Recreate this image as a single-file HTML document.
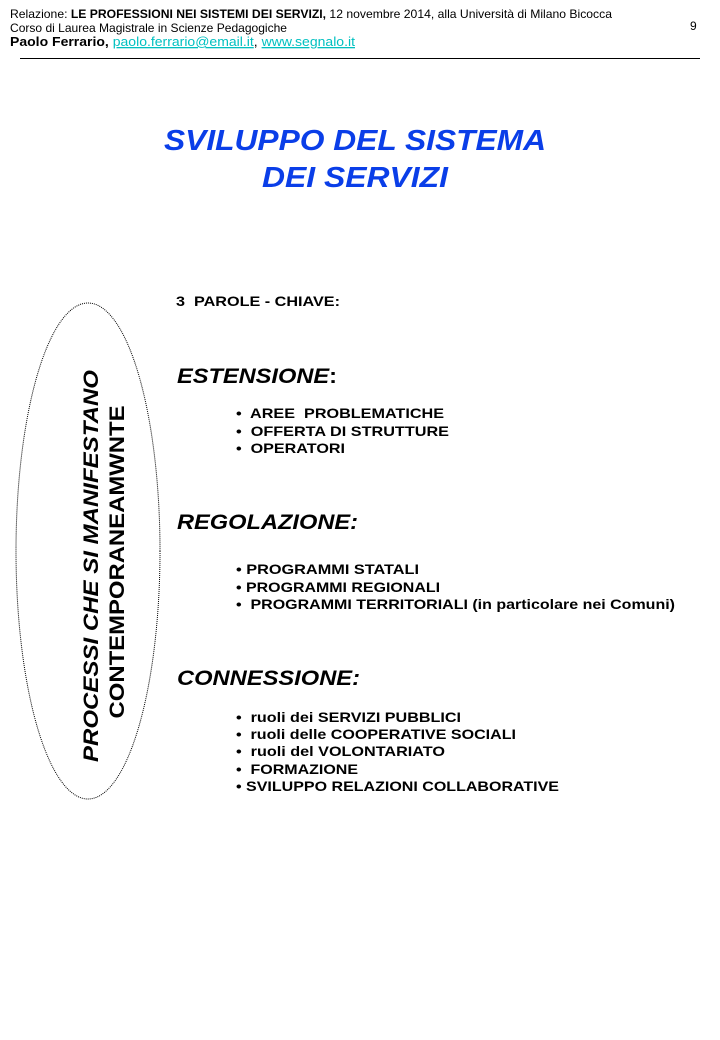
<!DOCTYPE html>
<html><head><meta charset="utf-8"><style>
html,body{margin:0;padding:0;background:#fff;}
svg{display:block;}
text{font-family:"Liberation Sans",Arial,sans-serif;white-space:pre;}
</style></head><body>
<svg width="720" height="1040" viewBox="0 0 720 1040" xmlns="http://www.w3.org/2000/svg" xml:space="preserve">
<text x="10" y="18" font-size="12" fill="#000" textLength="602" lengthAdjust="spacingAndGlyphs">Relazione: <tspan font-weight="bold">LE PROFESSIONI NEI SISTEMI DEI SERVIZI,</tspan> 12 novembre 2014, alla Università di Milano Bicocca</text>
<text x="10" y="32" font-size="12" fill="#000" textLength="277" lengthAdjust="spacingAndGlyphs">Corso di Laurea Magistrale in Scienze Pedagogiche</text>
<text x="690" y="30" font-size="12" fill="#000">9</text>
<text x="10" y="46" font-size="13" fill="#000" textLength="345" lengthAdjust="spacingAndGlyphs"><tspan font-weight="bold">Paolo Ferrario,</tspan> <tspan fill="#00c0c0" text-decoration="underline">paolo.ferrario@email.it</tspan>, <tspan fill="#00c0c0" text-decoration="underline">www.segnalo.it</tspan></text>
<line x1="20" y1="58.5" x2="700" y2="58.5" stroke="#000" stroke-width="1"/>
<text x="355" y="150" font-size="29" font-weight="bold" font-style="italic" fill="#0a3ee8" text-anchor="middle" textLength="382" lengthAdjust="spacingAndGlyphs">SVILUPPO DEL SISTEMA</text>
<text x="355" y="187" font-size="29" font-weight="bold" font-style="italic" fill="#0a3ee8" text-anchor="middle" textLength="186" lengthAdjust="spacingAndGlyphs">DEI SERVIZI</text>
<ellipse cx="88" cy="551" rx="72" ry="248" fill="none" stroke="#000" stroke-width="1" stroke-dasharray="1,1"/>
<g transform="translate(98,566) rotate(-90)">
<text x="0" y="0" font-size="21" font-weight="bold" font-style="italic" text-anchor="middle" textLength="392" lengthAdjust="spacingAndGlyphs">PROCESSI CHE SI MANIFESTANO</text>
</g>
<g transform="translate(124,562) rotate(-90)">
<text x="0" y="0" font-size="21" font-weight="bold" text-anchor="middle" textLength="313" lengthAdjust="spacingAndGlyphs">CONTEMPORANEAMWNTE</text>
</g>
<text x="176" y="306" font-size="14" font-weight="bold" textLength="164" lengthAdjust="spacingAndGlyphs">3  PAROLE - CHIAVE:</text>
<text x="177" y="383" font-size="21" font-weight="bold" font-style="italic" textLength="160" lengthAdjust="spacingAndGlyphs">ESTENSIONE<tspan font-style="normal">:</tspan></text>
<g font-size="14" font-weight="bold">
<text x="236" y="418" textLength="208" lengthAdjust="spacingAndGlyphs">•  AREE  PROBLEMATICHE</text>
<text x="236" y="436" textLength="213" lengthAdjust="spacingAndGlyphs">•  OFFERTA DI STRUTTURE</text>
<text x="236" y="453" textLength="109" lengthAdjust="spacingAndGlyphs">•  OPERATORI</text>
</g>
<text x="177" y="529" font-size="21" font-weight="bold" font-style="italic" textLength="181" lengthAdjust="spacingAndGlyphs">REGOLAZIONE:</text>
<g font-size="14" font-weight="bold">
<text x="236" y="574" textLength="183" lengthAdjust="spacingAndGlyphs">• PROGRAMMI STATALI</text>
<text x="236" y="592" textLength="204" lengthAdjust="spacingAndGlyphs">• PROGRAMMI REGIONALI</text>
<text x="236" y="609" textLength="439" lengthAdjust="spacingAndGlyphs">•  PROGRAMMI TERRITORIALI (in particolare nei Comuni)</text>
</g>
<text x="177" y="685" font-size="21" font-weight="bold" font-style="italic" textLength="183" lengthAdjust="spacingAndGlyphs">CONNESSIONE:</text>
<g font-size="14" font-weight="bold">
<text x="236" y="722" textLength="225" lengthAdjust="spacingAndGlyphs">•  ruoli dei SERVIZI PUBBLICI</text>
<text x="236" y="739" textLength="280" lengthAdjust="spacingAndGlyphs">•  ruoli delle COOPERATIVE SOCIALI</text>
<text x="236" y="756" textLength="209" lengthAdjust="spacingAndGlyphs">•  ruoli del VOLONTARIATO</text>
<text x="236" y="774" textLength="122" lengthAdjust="spacingAndGlyphs">•  FORMAZIONE</text>
<text x="236" y="791" textLength="323" lengthAdjust="spacingAndGlyphs">• SVILUPPO RELAZIONI COLLABORATIVE</text>
</g>
</svg>
</body></html>
